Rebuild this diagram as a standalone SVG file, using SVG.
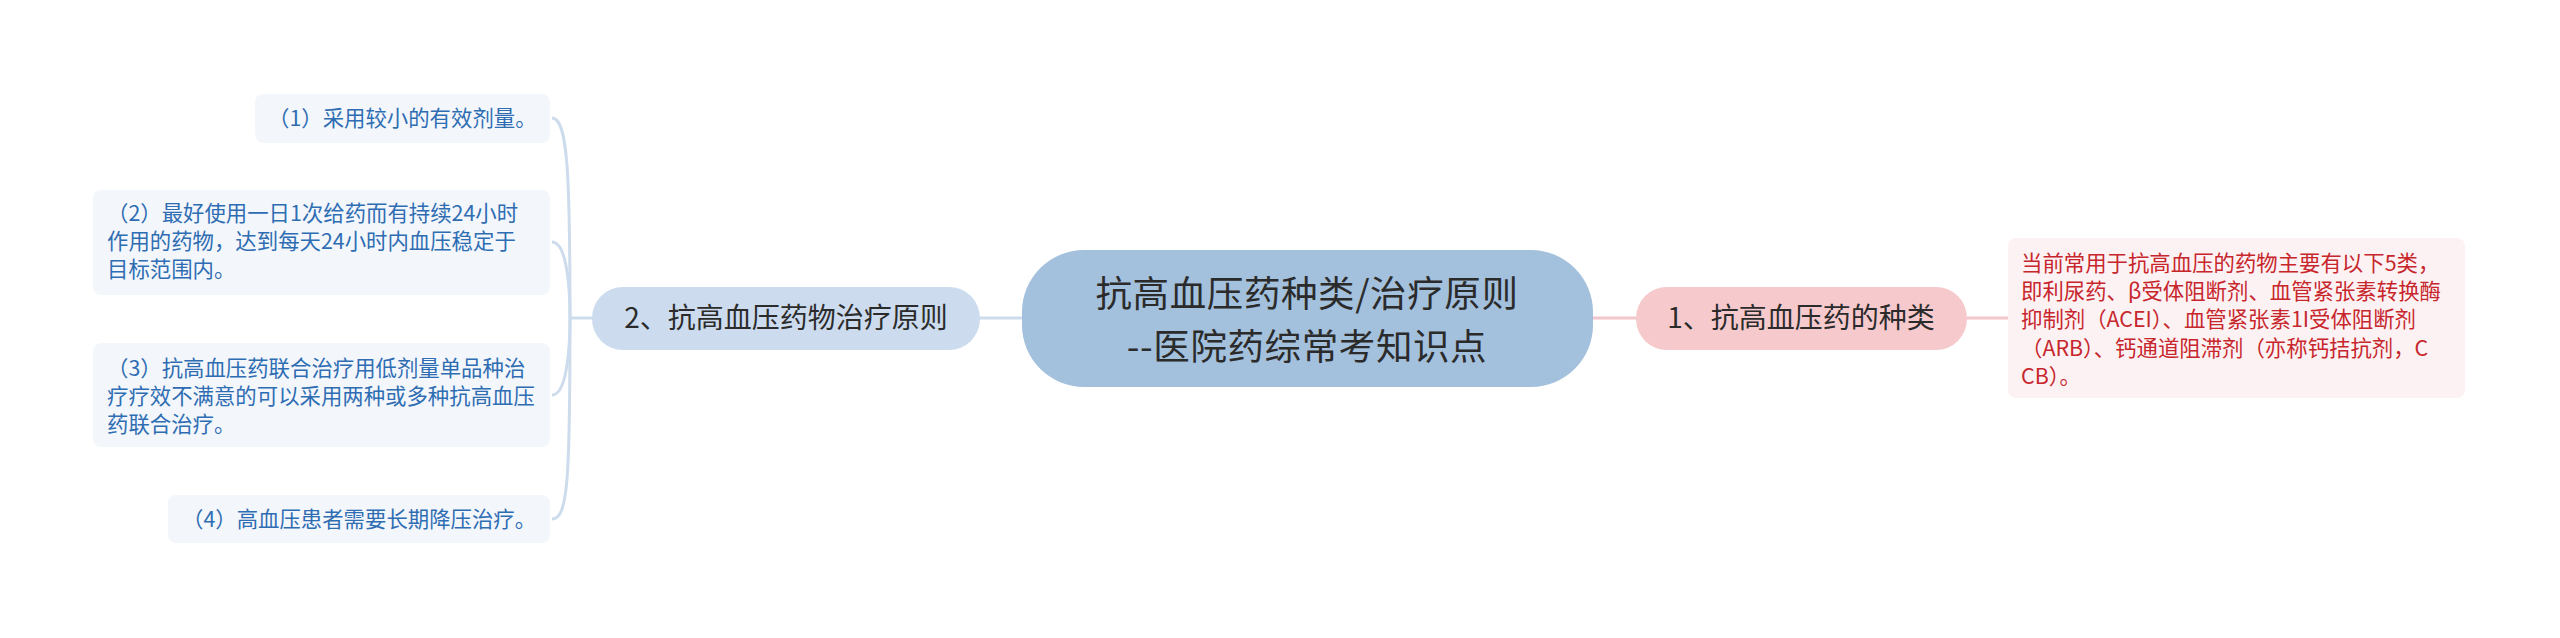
<svg xmlns="http://www.w3.org/2000/svg" width="2560" height="638" viewBox="0 0 2560 638">
<style>
  .bg { fill: #ffffff; }
  .lineL { fill: none; stroke: #cddcec; stroke-width: 3; }
  .lineR { fill: none; stroke: #f3c6cb; stroke-width: 3; }
  .center { fill: #a3c0dc; }
  .c-text { font-family: "Noto Sans CJK SC", "Noto Sans", sans-serif; font-size: 36.5px; letter-spacing: 0.6px; fill: #2b2b2b; text-anchor: middle; }
  .l1-left { fill: #ccdcee; }
  .l1-right { fill: #f6cacd; }
  .l1-text { font-family: "Noto Sans CJK SC", "Noto Sans", sans-serif; font-size: 28px; fill: #2b2b2b; text-anchor: middle; }
  .leaf { fill: #f3f7fc; }
  .leaf-text { font-family: "Noto Sans CJK SC", "Noto Sans", sans-serif; font-size: 21.4px; fill: #2f6db3; }
  .note { fill: #fdf2f3; }
  .note-text { font-family: "Noto Sans CJK SC", "Noto Sans", sans-serif; font-size: 21.4px; fill: #c7262d; }
</style>
<rect class="bg" x="0" y="0" width="2560" height="638"/>
<g id="connectors">
  <path class="lineR" d="M 1593 318 L 1636 318"/>
  <path class="lineR" d="M 1967 318 L 2008 318"/>
  <path class="lineL" d="M 1022 318 L 980 318"/>
  <path class="lineL" d="M 592 318 L 570 318"/>
  <path class="lineL" d="M 570 318 C 570 178, 568 118, 552 118"/>
  <path class="lineL" d="M 570 318 C 570 295, 568 242, 552 242"/>
  <path class="lineL" d="M 570 318 C 570 341, 568 395, 552 395"/>
  <path class="lineL" d="M 570 318 C 570 479, 568 519, 552 519"/>
</g>
<g id="center">
  <rect class="center" x="1022" y="250" width="571" height="137" rx="62" ry="62"/>
  <text class="c-text" x="1307" y="307">抗高血压药种类/治疗原则</text>
  <text class="c-text" x="1307" y="360">--医院药综常考知识点</text>
</g>
<g id="node-1">
  <rect class="l1-right" x="1636" y="287" width="331" height="63" rx="31" ry="31"/>
  <text class="l1-text" x="1801" y="328">1、抗高血压药的种类</text>
</g>
<g id="node-1-note">
  <rect class="note" x="2008" y="238" width="457" height="160" rx="8" ry="8"/>
  <text class="note-text" x="2021" y="271">当前常用于抗高血压的药物主要有以下5类，</text>
  <text class="note-text" x="2021" y="299">即利尿药、β受体阻断剂、血管紧张素转换酶</text>
  <text class="note-text" x="2021" y="327">抑制剂（ACEI）、血管紧张素1I受体阻断剂</text>
  <text class="note-text" x="2021" y="356">（ARB）、钙通道阻滞剂（亦称钙拮抗剂，C</text>
  <text class="note-text" x="2021" y="384">CB）。</text>
</g>
<g id="node-2">
  <rect class="l1-left" x="592" y="287" width="388" height="63" rx="31" ry="31"/>
  <text class="l1-text" x="786" y="328">2、抗高血压药物治疗原则</text>
</g>
<g id="leaf-1">
  <rect class="leaf" x="255" y="94" width="295" height="49" rx="8" ry="8"/>
  <text class="leaf-text" x="268" y="126">（1）采用较小的有效剂量。</text>
</g>
<g id="leaf-2">
  <rect class="leaf" x="93" y="190" width="457" height="105" rx="8" ry="8"/>
  <text class="leaf-text" x="107" y="221">（2）最好使用一日1次给药而有持续24小时</text>
  <text class="leaf-text" x="107" y="249">作用的药物，达到每天24小时内血压稳定于</text>
  <text class="leaf-text" x="107" y="277">目标范围内。</text>
</g>
<g id="leaf-3">
  <rect class="leaf" x="93" y="343" width="457" height="104" rx="8" ry="8"/>
  <text class="leaf-text" x="107" y="376">（3）抗高血压药联合治疗用低剂量单品种治</text>
  <text class="leaf-text" x="107" y="404">疗疗效不满意的可以采用两种或多种抗高血压</text>
  <text class="leaf-text" x="107" y="432">药联合治疗。</text>
</g>
<g id="leaf-4">
  <rect class="leaf" x="168" y="495" width="382" height="48" rx="8" ry="8"/>
  <text class="leaf-text" x="182" y="527">（4）高血压患者需要长期降压治疗。</text>
</g>
</svg>
